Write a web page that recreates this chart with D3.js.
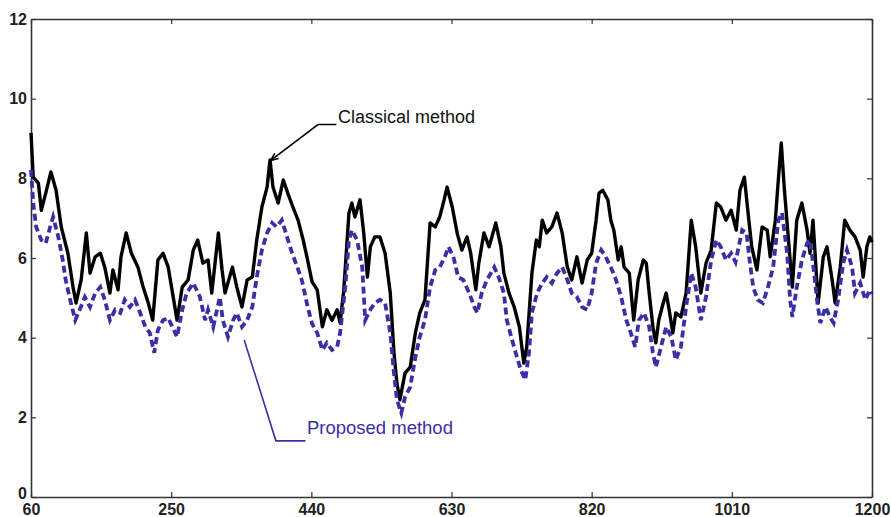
<!DOCTYPE html>
<html>
<head>
<meta charset="utf-8">
<script src="https://cdn.jsdelivr.net/npm/d3@7"></script>
<style>
    body { margin: 0; background: #fff; }
    svg { display: block; font-family: 'Liberation Sans', Arial, sans-serif; }
</style>
</head>
<body>
<svg id="chart" width="891" height="517"></svg>
<script>
const X_TICKS = [60, 250, 440, 630, 820, 1010, 1200];
const Y_TICKS = [0, 2, 4, 6, 8, 10, 12];

const CLASSICAL_LABEL = 'Classical method';
const PROPOSED_LABEL = 'Proposed method';

// classical method (solid black)
const classicalX = [60, 63, 70, 74, 80, 87, 94, 101, 110, 117, 121, 128, 135, 140, 147, 154, 160, 167, 171, 178,
    182, 189, 196, 205, 212, 219, 225, 232, 239, 246, 258, 265, 273, 280, 286, 293, 300, 305, 314, 319,
    323, 333, 339, 346, 353, 360, 366, 373, 380, 384, 388, 395, 402, 408, 415, 422, 429, 434, 441, 448,
    455, 461, 468, 475, 479, 484, 491, 495, 499, 506, 511, 516, 520, 526, 533, 540, 547, 552, 556, 560,
    567, 574, 581, 587, 594, 601, 608, 614, 620, 624, 631, 638, 644, 651, 656, 663, 667, 674, 681, 690,
    697, 701, 708, 715, 722, 728, 732, 739, 745, 749, 753, 759, 766, 773, 780, 787, 793, 800, 807, 814,
    820, 826, 830, 835, 842, 846, 850, 856, 860, 864, 871, 877, 883, 890, 894, 898, 903, 907, 911, 917,
    921, 925, 930, 934, 941, 948, 955, 961, 968, 975, 982, 989, 995, 1002, 1009, 1016, 1021, 1027, 1032, 1037,
    1044, 1051, 1058, 1062, 1069, 1073, 1077, 1081, 1086, 1092, 1098, 1105, 1112, 1116, 1120, 1127, 1134, 1139, 1146, 1150,
    1157, 1163, 1170, 1177, 1184, 1188, 1193, 1197, 1200];
const classicalY = [9.14, 8.03, 7.88, 7.2, 7.63, 8.16, 7.7, 6.78, 6.12, 5.27, 4.87, 5.45, 6.63, 5.62, 6.03, 6.12, 5.77, 5.12, 5.7, 5.2,
    6.03, 6.63, 6.12, 5.77, 5.27, 4.87, 4.44, 5.95, 6.12, 5.77, 4.44, 5.27, 5.45, 6.2, 6.45, 5.87, 5.95, 5.12, 6.63, 5.7,
    5.12, 5.77, 5.27, 4.77, 5.45, 5.52, 6.45, 7.28, 7.78, 8.46, 7.78, 7.38, 7.96, 7.63, 7.28, 6.95, 6.45, 6.03, 5.4, 5.2,
    4.27, 4.7, 4.44, 4.7, 4.37, 5.2, 7.13, 7.38, 7.03, 7.46, 6.63, 5.52, 6.28, 6.53, 6.53, 6.12, 5.12, 3.62, 2.86, 2.44,
    3.11, 3.26, 4.12, 4.62, 4.95, 6.88, 6.78, 7.03, 7.46, 7.78, 7.28, 6.6, 6.2, 6.53, 6.12, 5.2, 5.87, 6.63, 6.28, 6.88,
    6.28, 5.62, 5.12, 4.77, 4.27, 3.36, 3.77, 5.62, 6.45, 6.28, 6.95, 6.63, 6.78, 7.13, 6.63, 5.77, 5.45, 6.03, 5.37, 5.95,
    6.12, 6.95, 7.63, 7.7, 7.46, 6.95, 6.7, 5.95, 6.28, 5.77, 5.62, 4.44, 5.45, 5.95, 5.87, 5.12, 4.27, 3.87, 4.44, 4.87,
    5.12, 4.7, 4.12, 4.62, 4.52, 5.12, 6.95, 6.28, 5.12, 5.87, 6.2, 7.38, 7.28, 6.95, 7.2, 6.7, 7.7, 8.03, 7.13, 6.28,
    5.7, 6.78, 6.7, 6.03, 6.95, 7.96, 8.89, 7.78, 6.63, 5.27, 6.95, 7.38, 6.7, 6.12, 6.95, 4.87, 6.03, 6.28, 5.45, 4.87,
    5.77, 6.95, 6.7, 6.53, 6.2, 5.52, 6.28, 6.53, 6.4];

// proposed method (dashed blue)
const proposedX = [60, 63, 67, 74, 80, 86, 90, 97, 103, 107, 113, 120, 126, 133, 140, 147, 154, 160, 167, 174,
    181, 187, 194, 201, 208, 215, 221, 227, 232, 239, 246, 258, 265, 271, 280, 289, 296, 300, 307, 316,
    320, 327, 334, 339, 346, 353, 360, 366, 373, 380, 387, 393, 400, 407, 414, 421, 427, 431, 435, 441,
    448, 455, 461, 468, 475, 479, 486, 491, 495, 502, 509, 513, 520, 526, 533, 540, 547, 552, 556, 562,
    567, 574, 581, 587, 594, 601, 608, 614, 621, 626, 633, 639, 646, 654, 661, 665, 671, 678, 688, 694,
    701, 705, 711, 717, 724, 730, 735, 739, 746, 753, 759, 766, 773, 780, 787, 793, 800, 807, 814, 820,
    826, 833, 839, 846, 853, 860, 867, 873, 879, 884, 891, 898, 903, 907, 914, 921, 928, 934, 941, 948,
    955, 961, 968, 975, 982, 989, 995, 1002, 1009, 1015, 1024, 1030, 1034, 1039, 1045, 1052, 1059, 1066, 1073, 1078,
    1085, 1089, 1092, 1098, 1105, 1112, 1116, 1120, 1126, 1130, 1137, 1143, 1148, 1154, 1161, 1166, 1173, 1177, 1184, 1191,
    1197, 1200];
const proposedY = [8.21, 7.38, 6.78, 6.45, 6.37, 6.78, 7.03, 6.53, 5.95, 5.45, 4.95, 4.44, 4.7, 5.02, 4.77, 5.12, 5.27, 4.95, 4.44, 4.7,
    4.62, 4.95, 4.77, 4.95, 4.62, 4.27, 4.12, 3.62, 4.19, 4.44, 4.49, 4.02, 4.7, 5.12, 5.37, 5.02, 4.44, 4.7, 4.27, 5.02,
    4.44, 4.02, 4.44, 4.62, 4.27, 4.44, 4.77, 5.52, 6.2, 6.63, 6.88, 6.78, 6.95, 6.53, 6.12, 5.77, 5.45, 5.12, 4.77, 4.35,
    4.12, 3.69, 3.87, 3.69, 3.77, 4.12, 5.27, 6.45, 6.7, 6.45, 5.77, 4.44, 4.7, 4.87, 4.95, 4.87, 4.12, 3.11, 2.44, 2.11,
    2.51, 2.76, 3.51, 4.02, 4.44, 5.27, 5.7, 5.77, 6.03, 6.28, 6.0, 5.52, 5.45, 5.12, 4.77, 4.62, 5.12, 5.45, 5.77, 5.52,
    5.12, 4.44, 4.02, 3.62, 3.19, 2.94, 3.62, 4.62, 5.12, 5.37, 5.52, 5.37, 5.62, 5.77, 5.45, 5.12, 5.02, 4.77, 4.7, 5.12,
    5.87, 6.2, 6.03, 5.77, 5.45, 5.02, 4.44, 4.12, 3.77, 4.44, 4.62, 4.27, 3.62, 3.26, 3.77, 4.27, 4.02, 3.44, 3.77, 4.77,
    5.62, 5.27, 4.44, 5.02, 5.95, 6.45, 6.28, 5.95, 6.12, 5.9, 6.7, 6.63, 5.95, 5.27, 4.95, 4.87, 5.27, 5.77, 6.95, 7.13,
    6.12, 4.95, 4.52, 5.27, 5.95, 6.37, 6.45, 5.87, 4.87, 4.37, 4.77, 4.52, 4.37, 4.95, 5.87, 6.2, 5.77, 5.12, 5.37, 4.95,
    5.2, 5.1];

// leader lines, in data units
const classicalLeader = [[385, 8.45], [449, 9.35], [474, 9.35]];
const classicalLabelAt = [476, 9.4];
const proposedLeader = [[349, 3.94], [392, 1.41], [432, 1.41]];
const proposedLabelAt = [434, 1.58];

const BLUE = '#3a30a6';
const AXIS_COLOR = '#333';

const svg = d3.select('#chart');
const width = +svg.attr('width');
const height = +svg.attr('height');
const margin = { top: 19, right: 19, bottom: 20, left: 31 };

const x = d3.scaleLinear().domain([60, 1200]).range([margin.left, width - margin.right]);
const y = d3.scaleLinear().domain([0, 12]).range([height - margin.bottom, margin.top]);

const styleAxis = g => {
    g.selectAll('.domain').attr('stroke', AXIS_COLOR).attr('stroke-width', 1.6);
    g.selectAll('.tick line').attr('stroke', AXIS_COLOR).attr('stroke-width', 1.2);
    g.selectAll('.tick text')
        .attr('fill', '#222')
        .style('font-size', '16px')
        .style('font-weight', 'bold');
};

svg.append('g')
    .attr('transform', `translate(0,${height - margin.bottom})`)
    .call(d3.axisBottom(x).tickValues(X_TICKS).tickFormat(d3.format('d')).tickSizeInner(-5).tickSizeOuter(0).tickPadding(6.5))
    .call(styleAxis);

svg.append('g')
    .attr('transform', `translate(0,${margin.top})`)
    .call(d3.axisTop(x).tickValues(X_TICKS).tickFormat('').tickSizeInner(-5).tickSizeOuter(0))
    .call(styleAxis);

svg.append('g')
    .attr('transform', `translate(${margin.left},0)`)
    .call(d3.axisLeft(y).tickValues(Y_TICKS).tickFormat(d3.format('d')).tickSizeInner(-5).tickSizeOuter(0).tickPadding(4))
    .call(styleAxis)
    // the 0 label sits just above the corner so it clears the 60 below
    .call(g => g.selectAll('.tick text').filter(d => d === 0).attr('dy', '0.1em'));

svg.append('g')
    .attr('transform', `translate(${width - margin.right},0)`)
    .call(d3.axisRight(y).tickValues(Y_TICKS).tickFormat('').tickSizeInner(-5).tickSizeOuter(0))
    .call(styleAxis);

const line = d3.line()
    .x(d => x(d[0]))
    .y(d => y(d[1]));

const classical = classicalX.map((v, i) => [v, classicalY[i]]);
const proposed = proposedX.map((v, i) => [v, proposedY[i]]);

svg.append('path')
    .attr('d', line(classical))
    .attr('fill', 'none')
    .attr('stroke', '#000')
    .attr('stroke-width', 3.4)
    .attr('stroke-linejoin', 'round');

svg.append('path')
    .attr('d', line(proposed))
    .attr('fill', 'none')
    .attr('stroke', BLUE)
    .attr('stroke-width', 3.8)
    .attr('stroke-dasharray', '7,4');

// annotations
svg.append('path')
    .attr('d', line(classicalLeader))
    .attr('fill', 'none')
    .attr('stroke', '#000')
    .attr('stroke-width', 1.6);

// small arrow head at the classical peak
const tip = classicalLeader[0];
const from = classicalLeader[1];
const ang = Math.atan2(y(from[1]) - y(tip[1]), x(from[0]) - x(tip[0]));
const headLen = 8;
svg.append('path')
    .attr('d', `M${x(tip[0]) + headLen * Math.cos(ang + 0.4)},${y(tip[1]) + headLen * Math.sin(ang + 0.4)}
        L${x(tip[0])},${y(tip[1])}
        L${x(tip[0]) + headLen * Math.cos(ang - 0.4)},${y(tip[1]) + headLen * Math.sin(ang - 0.4)}`)
    .attr('fill', 'none')
    .attr('stroke', '#000')
    .attr('stroke-width', 1.6);

svg.append('text')
    .attr('x', x(classicalLabelAt[0]))
    .attr('y', y(classicalLabelAt[1]))
    .style('font-size', '18px')
    .attr('fill', '#111')
    .text(CLASSICAL_LABEL);

svg.append('path')
    .attr('d', line(proposedLeader))
    .attr('fill', 'none')
    .attr('stroke', BLUE)
    .attr('stroke-width', 1.6);

svg.append('text')
    .attr('x', x(proposedLabelAt[0]))
    .attr('y', y(proposedLabelAt[1]))
    .style('font-size', '18.5px')
    .attr('fill', BLUE)
    .text(PROPOSED_LABEL);
</script>
</body>
</html>
